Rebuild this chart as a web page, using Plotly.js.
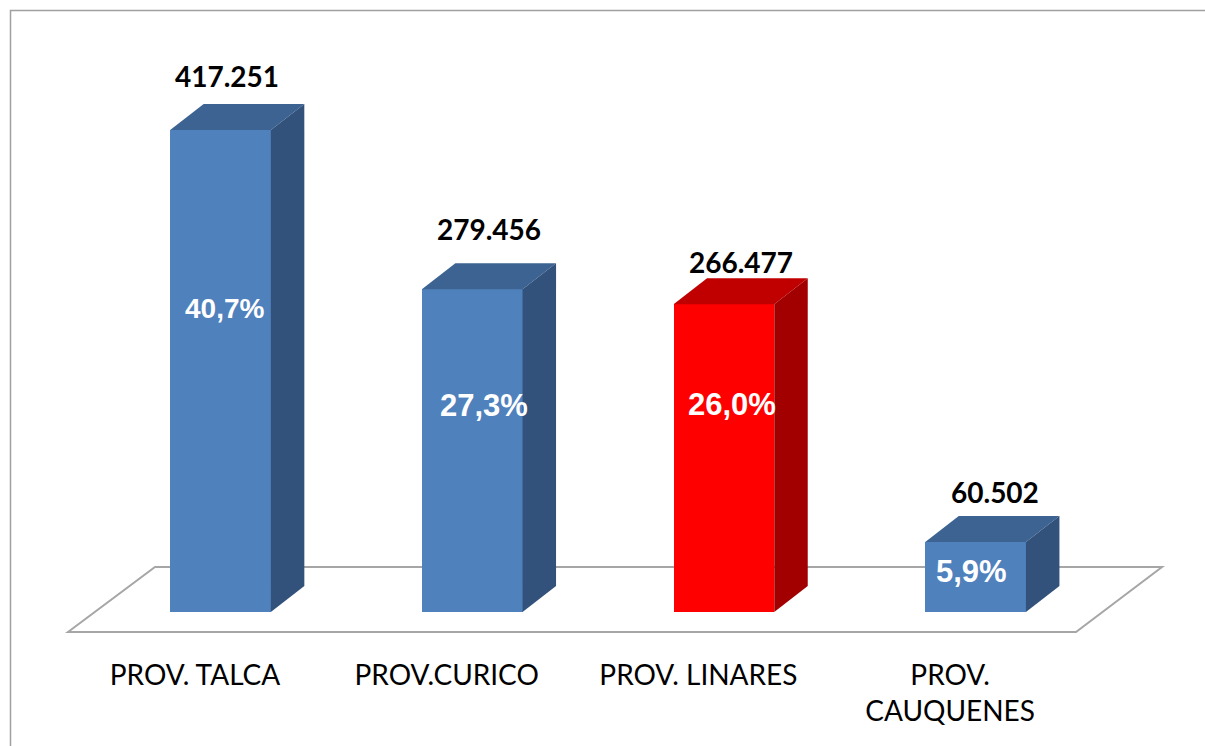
<!DOCTYPE html>
<html>
<head>
<meta charset="utf-8">
<script src="https://cdn.plot.ly/plotly-3.0.1.min.js"></script>
<style>html,body{margin:0;padding:0;background:#fff;overflow:hidden}#chart{width:1205px;height:746px}</style>
</head>
<body>
<div id="chart"></div>
<script>
// Data
var categories = ['PROV. TALCA', 'PROV.CURICO', 'PROV. LINARES', 'PROV.<br>CAUQUENES'];
var values = [417251, 279456, 266477, 60502];
var valueLabels = ['417.251', '279.456', '266.477', '60.502'];
var percentLabels = ['40,7%', '27,3%', '26,0%', '5,9%'];

// Styles
var frontColors = ['#4f81bd', '#4f81bd', '#ff0000', '#4f81bd'];
var topColors = ['#3c6391', '#3c6391', '#c00000', '#3c6391'];
var sideColors = ['#32527b', '#32527b', '#a20000', '#32527b'];
var percentSizes = [28, 31, 31, 31];

// Placement of labels relative to each bar (pixels)
var valueShiftX = [6.5, 17, 17, 19.5];
var valueShiftY = [28, 34, 16, 24];
var percentShiftX = [4, 12, 8, -4];
var percentCenterY = [308, 405, 404, 571];

// Scale: pixels per axis unit
var W = 1205, H = 746, bottomMargin = 90;
var plotH = H - bottomMargin;
var pxPerCat = 251.7, pxPerVal = 0.001155;
var zeroX = 220.5, zeroY = 612;
var barWidth = 0.40;
var depthX = 33.5 / pxPerCat, depthY = 26 / pxPerVal;

var xs = values.map(function (_, i) { return i; });
var traces = [{
  type: 'bar', x: xs, y: values, width: barWidth,
  marker: { color: frontColors, line: { width: 0 } },
  hoverinfo: 'skip', showlegend: false
}];

values.forEach(function (v, i) {
  var l = i - barWidth / 2, r = i + barWidth / 2;
  traces.push({
    type: 'scatter', mode: 'lines', fill: 'toself', fillcolor: topColors[i],
    line: { width: 0 }, hoverinfo: 'skip', showlegend: false,
    x: [l, l + depthX, r + depthX, r, l],
    y: [v, v + depthY, v + depthY, v, v]
  });
  traces.push({
    type: 'scatter', mode: 'lines', fill: 'toself', fillcolor: sideColors[i],
    line: { width: 0 }, hoverinfo: 'skip', showlegend: false,
    x: [r, r + depthX, r + depthX, r, r],
    y: [v, v + depthY, depthY, 0, v]
  });
});

// Floor plate, in axis units
var fx0 = (68 - zeroX) / pxPerCat, fx1 = (155 - zeroX) / pxPerCat,
    fx2 = (1162 - zeroX) / pxPerCat, fx3 = (1076 - zeroX) / pxPerCat;
var fyFront = (zeroY - 632) / pxPerVal, fyBack = (zeroY - 567) / pxPerVal;

var annotations = [];
values.forEach(function (v, i) {
  annotations.push({
    x: i, y: v + depthY, xref: 'x', yref: 'y', text: valueLabels[i], showarrow: false,
    xshift: valueShiftX[i], yshift: valueShiftY[i], xanchor: 'center', yanchor: 'middle',
    font: { family: 'Lato, sans-serif', size: 28, color: '#000000', weight: 700 }
  });
  annotations.push({
    x: i, y: (zeroY - percentCenterY[i]) / pxPerVal, xref: 'x', yref: 'y', text: percentLabels[i], showarrow: false,
    xshift: percentShiftX[i], xanchor: 'center', yanchor: 'middle',
    font: { family: '"Liberation Sans", Arial, sans-serif', size: percentSizes[i], color: '#ffffff', weight: 700 }
  });
});

var layout = {
  width: W, height: H,
  margin: { l: 0, r: 0, t: 0, b: bottomMargin, pad: 0 },
  paper_bgcolor: '#ffffff', plot_bgcolor: 'rgba(0,0,0,0)',
  showlegend: false, bargap: 0,
  xaxis: {
    type: 'linear',
    range: [-zeroX / pxPerCat, (W - zeroX) / pxPerCat],
    tickmode: 'array',
    tickvals: xs.map(function (i) { return i - 25.5 / pxPerCat; }),
    ticktext: categories,
    ticks: '', showgrid: false, zeroline: false, showline: false,
    tickangle: 0, ticklabelstandoff: 0,
    tickfont: { family: 'Lato, sans-serif', size: 28, color: '#000000' }
  },
  yaxis: {
    type: 'linear',
    range: [(zeroY - plotH) / pxPerVal, zeroY / pxPerVal],
    visible: false, showgrid: false, zeroline: false
  },
  shapes: [
    {
      type: 'path', layer: 'below', xref: 'x', yref: 'y',
      path: 'M' + fx0 + ',' + fyFront + ' L' + fx1 + ',' + fyBack + ' L' + fx2 + ',' + fyBack + ' L' + fx3 + ',' + fyFront + ' Z',
      line: { color: '#a6a6a6', width: 2 }, fillcolor: 'rgba(255,255,255,1)'
    },
    {
      type: 'path', layer: 'below', xref: 'paper', yref: 'paper',
      path: 'M' + (10.5 / W) + ',' + (-bottomMargin / plotH) + ' L' + (10.5 / W) + ',' + ((plotH - 10.5) / plotH) + ' L1,' + ((plotH - 10.5) / plotH),
      line: { color: '#a0a0a0', width: 1.5 }
    }
  ],
  annotations: annotations
};

Plotly.newPlot('chart', traces, layout, { displayModeBar: false, responsive: false });
</script>
</body>
</html>
